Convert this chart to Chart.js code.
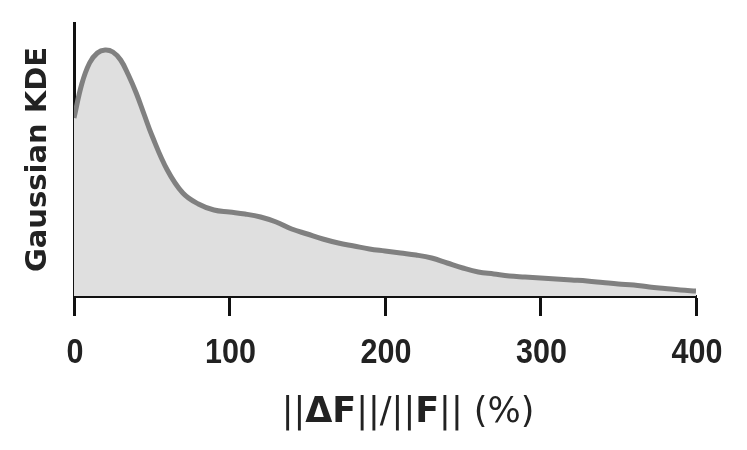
<!DOCTYPE html>
<html>
<head>
<meta charset="utf-8">
<script src="https://cdn.jsdelivr.net/npm/chart.js@4/dist/chart.umd.min.js"></script>
<style>
  html, body { margin: 0; padding: 0; background: #fff; }
  canvas { display: block; }
</style>
</head>
<body>
<canvas id="kdeChart" width="747" height="450"></canvas>
<script>
// Data
const xValues = [0, 5, 10, 15, 20, 25, 30, 35, 40, 45, 50, 60, 70, 80, 90, 100, 110, 120, 130, 140,
                 150, 160, 170, 180, 190, 200, 210, 220, 230, 240, 250, 260, 270, 280, 290, 300,
                 310, 320, 330, 340, 350, 360, 370, 380, 390, 400];
const kdeValues = [178, 212, 233, 243, 246, 244, 236, 221, 203, 182, 161, 126, 103, 92, 86, 84, 82, 79, 74, 67,
                   62, 57, 53, 50, 47, 45, 43, 41, 38, 33, 28, 24, 22, 20, 19, 18,
                   17, 16, 15, 13.5, 12, 11, 9, 7.5, 6, 5];
const xTicks = [0, 100, 200, 300, 400];
const xTitleParts = [
    ['||', 'normal'], ['ΔF', 'bold'], ['||/||', 'normal'], ['F', 'bold'], ['|| (%)', 'normal']
];

(function() {
    'use strict';

    const axisColor = '#111';
    const textColor = '#222';

    /**
     * Draw the x tick labels condensed (narrow bold digits)
     */
    const narrowTicks = {
        id: 'narrowTicks',
        afterDraw(chart) {
            const ctx = chart.ctx;
            const scale = chart.scales.x;
            ctx.save();
            ctx.fillStyle = textColor;
            ctx.font = 'bold 35px "Liberation Sans", sans-serif';
            ctx.textAlign = 'center';
            ctx.textBaseline = 'alphabetic';
            scale.ticks.forEach(t => {
                const px = scale.getPixelForValue(t.value);
                ctx.save();
                ctx.translate(px + 1, 363);
                ctx.scale(0.87, 1);
                ctx.fillText(String(t.value), 0, 0);
                ctx.restore();
            });
            ctx.restore();
        }
    };

    /**
     * Draw the x axis title with mixed weights (bars normal, ΔF bold)
     */
    const mixedTitle = {
        id: 'mixedTitle',
        afterDraw(chart) {
            const ctx = chart.ctx;
            const size = 35;
            const family = '"DejaVu Sans", sans-serif';
            ctx.save();
            ctx.fillStyle = textColor;
            ctx.textBaseline = 'alphabetic';
            let total = 0;
            xTitleParts.forEach(p => {
                ctx.font = p[1] + ' ' + size + 'px ' + family;
                total += ctx.measureText(p[0]).width;
            });
            const area = chart.chartArea;
            let x = (area.left + area.right) / 2 + 23 - total / 2;
            xTitleParts.forEach(p => {
                ctx.font = p[1] + ' ' + size + 'px ' + family;
                ctx.fillText(p[0], x, 422);
                x += ctx.measureText(p[0]).width;
            });
            ctx.restore();
        }
    };

    const points = xValues.map((x, i) => ({ x: x, y: kdeValues[i] }));

    new Chart(document.getElementById('kdeChart').getContext('2d'), {
        type: 'line',
        data: {
            datasets: [{
                data: points,
                borderColor: '#808080',
                borderWidth: 5,
                backgroundColor: '#dfdfdf',
                fill: 'origin',
                pointRadius: 0,
                tension: 0.4
            }]
        },
        options: {
            responsive: false,
            animation: false,
            layout: { padding: { top: 23, right: 51, left: 0, bottom: 0 } },
            plugins: {
                legend: { display: false },
                tooltip: { enabled: false }
            },
            scales: {
                x: {
                    type: 'linear',
                    min: 0,
                    max: 400,
                    afterBuildTicks: scale => {
                        scale.ticks = xTicks.map(v => ({ value: v }));
                    },
                    afterFit: scale => { scale.height = 154; },
                    border: { display: true, color: axisColor, width: 3 },
                    grid: {
                        drawOnChartArea: false,
                        drawTicks: true,
                        tickLength: 20,
                        tickWidth: 3,
                        tickColor: axisColor
                    },
                    ticks: {
                        color: 'rgba(0,0,0,0)',
                        padding: 18,
                        maxRotation: 0,
                        font: { size: 30, weight: 'bold' }
                    }
                },
                y: {
                    min: 0,
                    max: 273,
                    afterFit: scale => { scale.width = 74; },
                    border: { display: true, color: axisColor, width: 3 },
                    grid: { display: false },
                    ticks: { display: false },
                    title: {
                        display: true,
                        text: 'Gaussian KDE',
                        color: textColor,
                        padding: { top: 21, bottom: 0 },
                        font: { family: '"DejaVu Sans", sans-serif', size: 29, weight: 'bold' }
                    }
                }
            }
        },
        plugins: [narrowTicks, mixedTitle]
    });
})();
</script>
</body>
</html>
